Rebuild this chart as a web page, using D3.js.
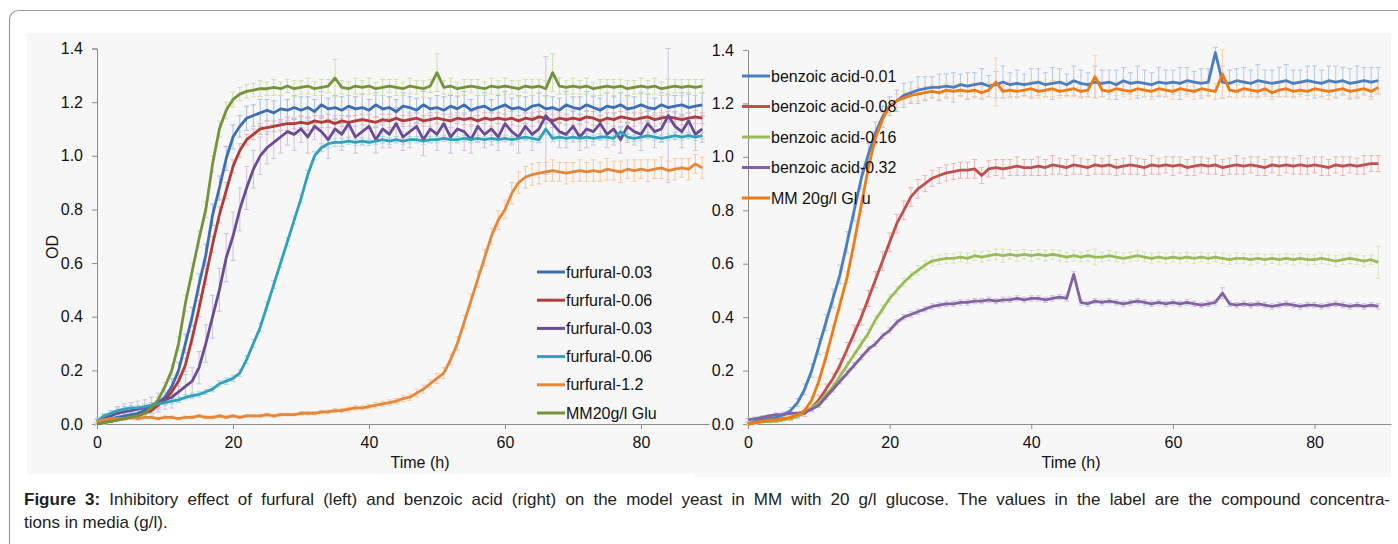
<!DOCTYPE html>
<html>
<head>
<meta charset="utf-8">
<script src="https://cdn.jsdelivr.net/npm/d3@7"></script>
<style>
  body { margin: 0; background: #fff; }
  svg { display: block; font-family: "Liberation Sans", Arial, sans-serif; }
</style>
</head>
<body>
<div id="chart"></div>
<script>
// sampling grid (hours) and ticks
const hours = d3.range(0, 90)
const yTicks = [0, 0.2, 0.4, 0.6, 0.8, 1.0, 1.2, 1.4]
const xTicks = [0, 20, 40, 60, 80]

// ---- left panel: furfural ----
const furfuralNames = ['furfural-0.03', 'furfural-0.06', 'furfural-0.03', 'furfural-0.06', 'furfural-1.2', 'MM20g/l Glu']

const furBlue = [
  0.00,0.01,0.02,0.025,0.03,0.035,0.04,0.05,0.06,0.08,
  0.10,0.14,0.20,0.30,0.40,0.52,0.63,0.78,0.88,0.99,
  1.07,1.11,1.14,1.15,1.16,1.17,1.16,1.175,1.17,1.18,
  1.17,1.18,1.165,1.19,1.175,1.18,1.17,1.185,1.175,1.18,
  1.17,1.19,1.175,1.18,1.165,1.185,1.18,1.17,1.19,1.175,
  1.18,1.17,1.185,1.175,1.19,1.17,1.18,1.185,1.17,1.18,
  1.19,1.175,1.18,1.17,1.185,1.19,1.175,1.18,1.17,1.19,
  1.18,1.175,1.19,1.18,1.17,1.185,1.18,1.19,1.175,1.18,
  1.19,1.18,1.175,1.19,1.18,1.185,1.19,1.18,1.185,1.19]
const furRed = [
  0.00,0.005,0.01,0.015,0.02,0.025,0.03,0.04,0.05,0.07,
  0.09,0.12,0.16,0.22,0.32,0.43,0.55,0.67,0.78,0.87,
  0.96,1.02,1.06,1.08,1.10,1.105,1.11,1.115,1.12,1.12,
  1.125,1.12,1.13,1.125,1.13,1.12,1.13,1.125,1.13,1.135,
  1.13,1.125,1.135,1.13,1.14,1.13,1.135,1.14,1.13,1.135,
  1.14,1.135,1.13,1.14,1.135,1.14,1.13,1.14,1.135,1.14,
  1.135,1.14,1.13,1.14,1.135,1.145,1.14,1.13,1.14,1.135,
  1.14,1.135,1.145,1.14,1.13,1.14,1.135,1.145,1.14,1.135,
  1.14,1.145,1.135,1.14,1.145,1.14,1.135,1.14,1.145,1.14]
const furPurple = [
  0.01,0.02,0.03,0.04,0.045,0.05,0.055,0.06,0.07,0.08,
  0.09,0.10,0.12,0.14,0.16,0.21,0.30,0.40,0.50,0.62,
  0.70,0.80,0.88,0.95,1.00,1.03,1.05,1.07,1.09,1.08,
  1.10,1.07,1.11,1.09,1.06,1.10,1.08,1.12,1.07,1.09,
  1.11,1.06,1.10,1.08,1.12,1.07,1.09,1.11,1.06,1.10,
  1.08,1.12,1.07,1.10,1.09,1.06,1.11,1.08,1.10,1.07,
  1.12,1.09,1.07,1.11,1.08,1.10,1.15,1.12,1.09,1.08,
  1.11,1.07,1.10,1.09,1.12,1.08,1.10,1.06,1.11,1.09,
  1.08,1.12,1.09,1.10,1.15,1.11,1.09,1.13,1.08,1.10]
const furTeal = [
  0.01,0.03,0.04,0.05,0.055,0.06,0.06,0.065,0.07,0.075,
  0.08,0.085,0.09,0.10,0.105,0.11,0.12,0.13,0.15,0.16,
  0.17,0.19,0.24,0.30,0.36,0.44,0.52,0.60,0.68,0.76,
  0.84,0.93,1.00,1.03,1.045,1.05,1.05,1.055,1.05,1.055,
  1.05,1.055,1.06,1.055,1.06,1.055,1.06,1.06,1.055,1.06,
  1.06,1.065,1.06,1.06,1.065,1.06,1.065,1.06,1.065,1.06,
  1.065,1.06,1.065,1.07,1.065,1.06,1.10,1.065,1.07,1.065,
  1.07,1.065,1.07,1.065,1.07,1.07,1.065,1.09,1.07,1.065,
  1.07,1.075,1.07,1.065,1.07,1.075,1.07,1.075,1.07,1.075]
const furOrange = [
  0.01,0.015,0.02,0.02,0.02,0.025,0.02,0.025,0.025,0.02,
  0.025,0.025,0.02,0.025,0.025,0.03,0.025,0.025,0.03,0.025,
  0.03,0.025,0.03,0.03,0.03,0.035,0.03,0.035,0.035,0.035,
  0.04,0.04,0.04,0.045,0.045,0.05,0.05,0.055,0.06,0.06,
  0.065,0.07,0.075,0.08,0.085,0.095,0.10,0.115,0.13,0.15,
  0.17,0.19,0.24,0.30,0.38,0.46,0.54,0.62,0.70,0.76,
  0.80,0.86,0.90,0.92,0.93,0.935,0.94,0.945,0.94,0.935,
  0.94,0.945,0.94,0.945,0.94,0.95,0.945,0.94,0.95,0.945,
  0.95,0.945,0.95,0.955,0.945,0.95,0.955,0.95,0.97,0.955]
const furGlu = [
  0.00,0.005,0.01,0.015,0.02,0.025,0.03,0.04,0.06,0.09,
  0.14,0.20,0.30,0.45,0.57,0.69,0.80,0.97,1.10,1.17,
  1.21,1.23,1.24,1.245,1.25,1.25,1.255,1.25,1.26,1.25,
  1.255,1.26,1.25,1.255,1.26,1.29,1.255,1.25,1.26,1.255,
  1.26,1.25,1.255,1.26,1.255,1.25,1.26,1.255,1.25,1.26,
  1.31,1.255,1.26,1.25,1.255,1.26,1.255,1.25,1.26,1.255,
  1.26,1.255,1.25,1.26,1.255,1.26,1.25,1.31,1.26,1.255,
  1.26,1.255,1.26,1.25,1.255,1.26,1.255,1.26,1.25,1.255,
  1.26,1.255,1.26,1.25,1.255,1.26,1.255,1.26,1.255,1.26]

// standard deviations (error bars)
const furBlueSd = [
  .005,.008,.01,.01,.012,.012,.015,.015,.02,.02,
  .025,.03,.03,.035,.035,.04,.04,.04,.045,.045,
  .045,.04,.045,.04,.05,.04,.045,.05,.04,.045,
  .05,.04,.045,.05,.04,.045,.05,.04,.045,.05,
  .04,.045,.05,.04,.045,.05,.04,.045,.05,.04,
  .045,.05,.04,.045,.05,.04,.045,.05,.04,.045,
  .05,.04,.045,.05,.04,.045,.05,.04,.045,.05,
  .04,.045,.05,.04,.045,.05,.04,.045,.05,.04,
  .045,.05,.04,.045,.05,.04,.045,.05,.04,.045]
const furRedSd = [
  .005,.005,.005,.006,.006,.008,.008,.01,.012,.015,
  .015,.02,.02,.025,.025,.03,.03,.03,.03,.03,
  .025,.025,.02,.02,.02,.025,.02,.02,.025,.02,
  .02,.025,.02,.02,.025,.02,.02,.025,.02,.02,
  .025,.02,.02,.025,.02,.02,.025,.02,.02,.025,
  .02,.02,.025,.02,.02,.025,.02,.02,.025,.02,
  .02,.025,.02,.02,.025,.02,.02,.025,.02,.02,
  .025,.02,.02,.025,.02,.02,.025,.02,.02,.025,
  .02,.02,.025,.02,.02,.025,.02,.02,.025,.02]
const furPurpleSd = [
  .01,.015,.02,.025,.03,.03,.03,.03,.03,.035,
  .035,.04,.04,.045,.05,.06,.07,.08,.08,.09,
  .09,.08,.08,.07,.07,.06,.06,.06,.05,.06,
  .05,.06,.05,.06,.07,.05,.06,.05,.06,.05,
  .06,.05,.07,.05,.06,.05,.06,.05,.06,.05,
  .06,.05,.06,.05,.07,.05,.06,.05,.06,.05,
  .06,.05,.06,.05,.06,.05,.22,.05,.06,.05,
  .06,.05,.07,.05,.06,.05,.06,.05,.06,.05,
  .06,.05,.06,.05,.25,.05,.06,.05,.06,.05]
const furTealSd = [
  .005,.008,.01,.01,.01,.01,.01,.01,.01,.01,
  .01,.01,.01,.01,.01,.01,.01,.01,.012,.012,
  .012,.012,.015,.015,.015,.015,.015,.015,.015,.015,
  .015,.015,.015,.015,.015,.015,.015,.012,.012,.012,
  .012,.012,.012,.012,.012,.012,.012,.012,.012,.012,
  .012,.012,.012,.012,.012,.012,.012,.012,.012,.012,
  .012,.012,.012,.012,.012,.012,.02,.012,.012,.012,
  .012,.012,.012,.012,.012,.012,.012,.015,.012,.012,
  .012,.012,.012,.012,.012,.012,.012,.012,.012,.012]
const furOrangeSd = [
  .005,.005,.005,.005,.005,.005,.005,.005,.005,.005,
  .005,.005,.005,.005,.005,.005,.005,.005,.005,.005,
  .005,.005,.005,.005,.005,.005,.005,.005,.005,.005,
  .006,.006,.006,.006,.007,.007,.008,.008,.008,.008,
  .008,.01,.01,.01,.01,.012,.012,.015,.015,.015,
  .018,.02,.02,.025,.025,.025,.03,.03,.03,.035,
  .035,.04,.04,.04,.04,.04,.035,.04,.035,.04,
  .035,.04,.035,.04,.035,.04,.035,.04,.035,.04,
  .035,.04,.035,.04,.035,.04,.035,.04,.035,.04]
const furGluSd = [
  .005,.005,.005,.005,.005,.005,.006,.008,.01,.012,
  .015,.02,.025,.03,.03,.03,.03,.03,.03,.03,
  .028,.025,.025,.025,.03,.025,.03,.025,.025,.03,
  .025,.03,.025,.03,.025,.07,.025,.025,.03,.025,
  .03,.025,.03,.025,.03,.025,.03,.025,.03,.025,
  .07,.025,.03,.025,.03,.025,.03,.025,.03,.025,
  .03,.025,.03,.025,.03,.025,.03,.07,.03,.025,
  .03,.025,.03,.025,.03,.025,.03,.025,.03,.025,
  .03,.025,.03,.025,.03,.025,.03,.025,.03,.025]

// ---- right panel: benzoic acid ----
const benzoicNames = ['benzoic acid-0.01', 'benzoic acid-0.08', 'benzoic acid-0.16', 'benzoic acid-0.32', 'MM 20g/l Gl u']

const benBlue = [
  0.00,0.01,0.015,0.02,0.025,0.035,0.05,0.08,0.13,0.20,
  0.29,0.38,0.47,0.56,0.68,0.80,0.92,1.01,1.09,1.15,
  1.19,1.21,1.23,1.24,1.25,1.255,1.26,1.26,1.265,1.26,
  1.27,1.265,1.27,1.275,1.265,1.27,1.28,1.27,1.275,1.27,
  1.275,1.28,1.27,1.275,1.28,1.27,1.285,1.275,1.27,1.28,
  1.275,1.28,1.27,1.285,1.275,1.28,1.275,1.27,1.28,1.275,
  1.28,1.275,1.285,1.28,1.275,1.28,1.39,1.28,1.275,1.285,
  1.28,1.275,1.285,1.28,1.275,1.28,1.285,1.275,1.28,1.285,
  1.28,1.275,1.285,1.28,1.285,1.275,1.28,1.285,1.28,1.285]
const benRed = [
  0.00,0.005,0.01,0.01,0.015,0.02,0.02,0.03,0.04,0.06,
  0.09,0.13,0.17,0.22,0.28,0.34,0.40,0.47,0.54,0.61,
  0.68,0.75,0.80,0.85,0.88,0.90,0.92,0.93,0.94,0.945,
  0.95,0.95,0.955,0.93,0.955,0.96,0.955,0.96,0.965,0.96,
  0.96,0.965,0.96,0.97,0.965,0.96,0.97,0.965,0.96,0.97,
  0.965,0.97,0.96,0.965,0.97,0.965,0.96,0.97,0.965,0.97,
  0.965,0.97,0.96,0.965,0.97,0.965,0.97,0.96,0.965,0.97,
  0.965,0.97,0.965,0.96,0.97,0.965,0.97,0.965,0.97,0.965,
  0.97,0.965,0.96,0.97,0.965,0.97,0.965,0.97,0.975,0.975]
const benGreen = [
  0.00,0.005,0.01,0.01,0.01,0.015,0.02,0.03,0.045,0.06,
  0.08,0.11,0.14,0.18,0.22,0.26,0.30,0.34,0.39,0.43,
  0.47,0.50,0.53,0.555,0.575,0.595,0.61,0.615,0.62,0.62,
  0.625,0.62,0.63,0.625,0.63,0.635,0.63,0.635,0.63,0.635,
  0.63,0.635,0.63,0.635,0.63,0.625,0.63,0.625,0.63,0.625,
  0.625,0.63,0.625,0.62,0.625,0.63,0.625,0.62,0.625,0.62,
  0.625,0.62,0.625,0.62,0.625,0.62,0.625,0.62,0.615,0.62,
  0.62,0.615,0.62,0.615,0.62,0.615,0.62,0.615,0.62,0.615,
  0.615,0.62,0.615,0.61,0.615,0.62,0.615,0.61,0.615,0.605]
const benPurple = [
  0.015,0.02,0.025,0.03,0.035,0.035,0.04,0.04,0.045,0.055,
  0.07,0.10,0.13,0.16,0.19,0.22,0.25,0.28,0.30,0.33,
  0.35,0.38,0.40,0.41,0.42,0.43,0.44,0.445,0.45,0.45,
  0.455,0.455,0.46,0.46,0.465,0.46,0.465,0.465,0.47,0.465,
  0.47,0.47,0.465,0.47,0.475,0.47,0.56,0.455,0.45,0.46,
  0.455,0.46,0.455,0.45,0.455,0.46,0.455,0.45,0.455,0.45,
  0.455,0.45,0.455,0.45,0.445,0.45,0.455,0.49,0.45,0.445,
  0.45,0.445,0.45,0.445,0.44,0.445,0.45,0.445,0.44,0.445,
  0.445,0.44,0.445,0.45,0.445,0.44,0.445,0.44,0.445,0.44]
const benGlu = [
  0.00,0.005,0.01,0.015,0.015,0.02,0.025,0.035,0.05,0.09,
  0.16,0.25,0.35,0.45,0.55,0.68,0.82,0.96,1.07,1.14,
  1.19,1.21,1.22,1.23,1.235,1.24,1.245,1.24,1.25,1.245,
  1.25,1.245,1.25,1.24,1.25,1.28,1.245,1.25,1.245,1.25,
  1.255,1.245,1.25,1.255,1.245,1.25,1.255,1.245,1.25,1.30,
  1.25,1.245,1.255,1.25,1.245,1.255,1.25,1.245,1.255,1.25,
  1.245,1.255,1.25,1.245,1.255,1.25,1.245,1.31,1.25,1.245,
  1.255,1.25,1.245,1.255,1.24,1.25,1.255,1.245,1.25,1.245,
  1.255,1.25,1.245,1.25,1.255,1.245,1.25,1.255,1.245,1.26]

const benBlueSd = [
  .005,.005,.006,.008,.01,.01,.012,.015,.02,.025,
  .03,.03,.035,.035,.04,.04,.04,.04,.04,.04,
  .035,.04,.045,.04,.05,.045,.04,.05,.045,.055,
  .04,.05,.045,.055,.04,.05,.06,.045,.05,.04,
  .055,.05,.045,.06,.05,.04,.055,.05,.045,.06,
  .05,.045,.055,.05,.04,.06,.05,.045,.055,.05,
  .045,.06,.05,.04,.055,.05,.02,.06,.05,.045,
  .055,.05,.06,.045,.05,.055,.06,.05,.045,.055,
  .06,.05,.055,.06,.05,.055,.06,.05,.055,.05]
const benRedSd = [
  .005,.005,.005,.005,.006,.006,.008,.01,.012,.015,
  .018,.02,.02,.025,.025,.03,.03,.03,.03,.035,
  .035,.035,.035,.035,.035,.03,.03,.03,.03,.03,
  .03,.03,.035,.03,.03,.03,.035,.03,.035,.03,
  .03,.035,.03,.035,.03,.03,.035,.03,.03,.035,
  .03,.035,.03,.03,.035,.03,.03,.035,.03,.03,
  .035,.03,.03,.035,.03,.03,.035,.03,.03,.035,
  .03,.03,.035,.03,.03,.035,.03,.03,.035,.03,
  .03,.035,.03,.03,.035,.03,.03,.035,.03,.03]
const benGreenSd = [
  .005,.005,.005,.005,.005,.005,.006,.008,.008,.01,
  .01,.01,.012,.012,.012,.012,.015,.015,.015,.015,
  .015,.015,.015,.015,.018,.018,.018,.018,.018,.018,
  .018,.02,.018,.02,.018,.02,.025,.018,.02,.018,
  .02,.018,.02,.018,.02,.018,.02,.018,.02,.03,
  .018,.02,.018,.02,.018,.02,.018,.02,.018,.02,
  .018,.02,.018,.02,.018,.02,.018,.02,.018,.02,
  .018,.02,.018,.02,.018,.02,.018,.02,.018,.02,
  .018,.02,.018,.02,.018,.02,.018,.02,.018,.06]
const benPurpleSd = [
  .006,.006,.006,.006,.006,.006,.006,.006,.006,.008,
  .008,.008,.01,.01,.01,.01,.01,.01,.01,.01,
  .01,.01,.01,.01,.01,.01,.01,.01,.01,.01,
  .01,.01,.01,.01,.01,.01,.01,.01,.01,.01,
  .01,.01,.01,.01,.01,.01,.01,.01,.01,.01,
  .01,.01,.01,.01,.01,.01,.01,.01,.01,.01,
  .01,.01,.01,.01,.01,.01,.01,.02,.01,.01,
  .01,.01,.01,.01,.01,.01,.01,.01,.01,.01,
  .01,.01,.01,.01,.01,.01,.01,.01,.01,.01]
const benGluSd = [
  .005,.005,.005,.005,.006,.006,.008,.01,.01,.012,
  .015,.018,.02,.02,.02,.025,.025,.025,.025,.025,
  .025,.025,.025,.025,.025,.025,.025,.025,.025,.025,
  .025,.025,.03,.025,.025,.09,.025,.03,.025,.025,
  .03,.025,.025,.03,.025,.025,.03,.025,.025,.08,
  .025,.03,.025,.025,.03,.025,.025,.03,.025,.025,
  .03,.025,.025,.03,.025,.025,.03,.09,.025,.025,
  .03,.025,.025,.03,.025,.025,.03,.025,.025,.03,
  .025,.025,.03,.025,.025,.03,.025,.025,.03,.025]

const caption1 = 'Inhibitory effect of furfural (left) and benzoic acid (right) on the model yeast in MM with 20 g/l glucose. The values in the label are the compound concentra-'
const caption2 = 'tions in media (g/l).'

const W = 1398, H = 544
const svg = d3.select('#chart').append('svg')
    .attr('width', W)
    .attr('height', H)

// outer frame, rounded top-left corner
svg.append('path')
    .attr('d', 'M9.5,544 V21 Q9.5,10.5 20,10.5 H1398')
    .attr('fill', 'none')
    .attr('stroke', '#9a9a9a')
    .attr('stroke-width', 1.2)

// panel backgrounds
svg.append('rect').attr('x', 27).attr('y', 33).attr('width', 668).attr('height', 441).attr('fill', '#f7f7f7')
svg.append('rect').attr('x', 695).attr('y', 33).attr('width', 696).attr('height', 444).attr('fill', '#f7f7f7')

function drawPanel(cfg) {
    const g = svg.append('g')
    const x = d3.scaleLinear().domain(cfg.xDomain).range(cfg.xRange)
    const y = d3.scaleLinear().domain([0, 1.4]).range(cfg.yRange)

    // axes
    const yAxis = g.append('g')
        .attr('transform', `translate(${cfg.xRange[0]},0)`)
        .call(d3.axisLeft(y).tickValues(yTicks).tickFormat(d3.format('.1f')).tickSize(5).tickPadding(9))
    const xAxis = g.append('g')
        .attr('transform', `translate(0,${cfg.yRange[0]})`)
        .call(d3.axisBottom(x).tickValues(xTicks).tickSize(5).tickSizeOuter(0).tickPadding(8))
    ;[xAxis, yAxis].forEach(a => {
        a.selectAll('path, line').attr('stroke', '#8c8c8c')
        a.selectAll('text').attr('font-size', 16).attr('fill', '#111')
            .attr('font-family', '"Liberation Sans", Arial, sans-serif')
    })

    // error bars
    cfg.series.forEach(s => {
        let d = ''
        hours.forEach((t, i) => {
            const px = x(t), y1 = y(s.values[i] - s.sd[i]), y2 = y(s.values[i] + s.sd[i])
            d += `M${px},${y1}V${y2}M${px - 2.5},${y1}H${px + 2.5}M${px - 2.5},${y2}H${px + 2.5}`
        })
        g.append('path')
            .attr('d', d)
            .attr('fill', 'none')
            .attr('stroke', s.light)
            .attr('stroke-width', 1)
    })

    // lines
    const line = d3.line().x((d, i) => x(hours[i])).y(d => y(d))
    cfg.series.forEach(s => {
        g.append('path')
            .datum(s.values)
            .attr('d', line)
            .attr('fill', 'none')
            .attr('stroke', s.color)
            .attr('stroke-width', 2.8)
            .attr('stroke-linejoin', 'round')
    })

    // legend
    const leg = g.append('g')
    cfg.series.slice().sort((a, b) => a.order - b.order).forEach((s, i) => {
        const ly = cfg.legend.y0 + i * cfg.legend.dy
        leg.append('line')
            .attr('x1', cfg.legend.x).attr('x2', cfg.legend.x + 28)
            .attr('y1', ly).attr('y2', ly)
            .attr('stroke', s.color).attr('stroke-width', 3)
        leg.append('text')
            .attr('x', cfg.legend.x + 29).attr('y', ly)
            .attr('dy', '0.35em')
            .attr('font-size', 16)
            .attr('fill', '#111')
            .text(s.name)
    })

    // axis title
    g.append('text')
        .attr('x', cfg.titleX).attr('y', 468)
        .attr('text-anchor', 'middle')
        .attr('font-size', 16)
        .attr('fill', '#111')
        .text('Time (h)')
}

drawPanel({
    xDomain: [0, 90], xRange: [97, 709], yRange: [424, 48.5],
    legend: { x: 537, y0: 272, dy: 28.2 },
    titleX: 420,
    series: [
        { name: furfuralNames[0], order: 0, values: furBlue, sd: furBlueSd, color: '#3d6eb1', light: '#a6bfe3' },
        { name: furfuralNames[1], order: 1, values: furRed, sd: furRedSd, color: '#b23b38', light: '#eab3b1' },
        { name: furfuralNames[2], order: 2, values: furPurple, sd: furPurpleSd, color: '#6a4c96', light: '#cfc0e0' },
        { name: furfuralNames[3], order: 3, values: furTeal, sd: furTealSd, color: '#33a0b9', light: '#a4d8e4' },
        { name: furfuralNames[4], order: 4, values: furOrange, sd: furOrangeSd, color: '#e5873b', light: '#f8c99f' },
        { name: furfuralNames[5], order: 5, values: furGlu, sd: furGluSd, color: '#76933c', light: '#cde0a8' }
    ]
})

svg.append('text')
    .attr('transform', 'translate(58,247) rotate(-90)')
    .attr('text-anchor', 'middle')
    .attr('font-size', 16)
    .attr('fill', '#111')
    .text('OD')

drawPanel({
    xDomain: [0, 90.8], xRange: [748, 1391], yRange: [424, 50],
    legend: { x: 742, y0: 76, dy: 30.5 },
    titleX: 1071,
    series: [
        { name: benzoicNames[0], order: 0, values: benBlue, sd: benBlueSd, color: '#4a7ebf', light: '#b3c9e6' },
        { name: benzoicNames[1], order: 1, values: benRed, sd: benRedSd, color: '#c0504d', light: '#ecb5b3' },
        { name: benzoicNames[2], order: 2, values: benGreen, sd: benGreenSd, color: '#9bbb59', light: '#d6e6b8' },
        { name: benzoicNames[3], order: 3, values: benPurple, sd: benPurpleSd, color: '#8064a2', light: '#cfc2df' },
        { name: benzoicNames[4], order: 4, values: benGlu, sd: benGluSd, color: '#f07a14', light: '#fbd0a6' }
    ]
})

// caption: first line justified by widening the word gaps
const cap = svg.append('text')
    .attr('x', 24).attr('y', 505)
    .attr('font-size', 17)
    .attr('fill', '#222')
cap.append('tspan').attr('font-weight', 'bold').text('Figure 3:')
cap.append('tspan').text(' ' + caption1)
const natural = cap.node().getComputedTextLength()
const gaps = (' ' + caption1).split(' ').length
cap.attr('word-spacing', Math.max(0, (1366 - natural) / gaps))
svg.append('text')
    .attr('x', 24).attr('y', 528)
    .attr('font-size', 17)
    .attr('fill', '#222')
    .text(caption2)
</script>
</body>
</html>
